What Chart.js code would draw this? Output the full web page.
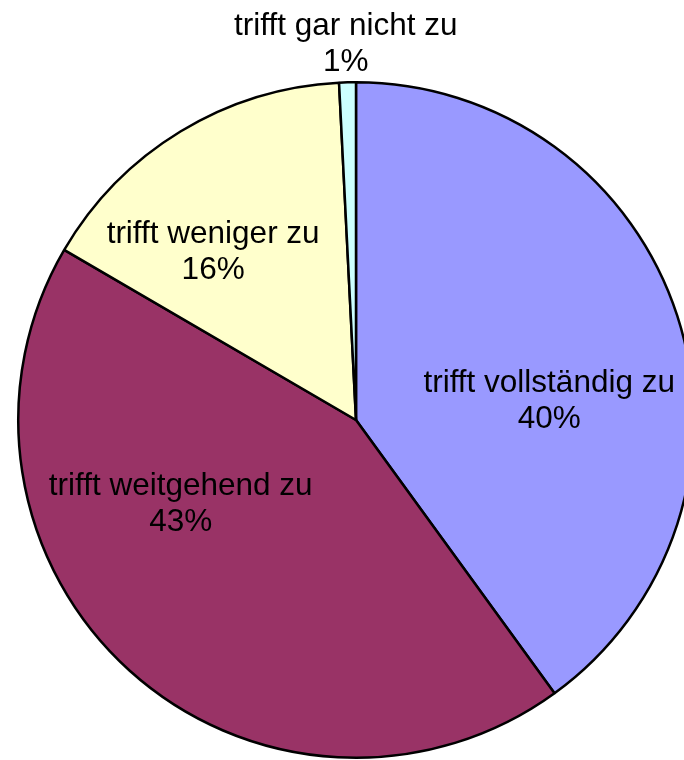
<!DOCTYPE html>
<html lang="de">
<head>
    <meta charset="UTF-8">
    <title>Kreisdiagramm</title>
    <script src="https://cdn.jsdelivr.net/npm/chart.js"></script>
    <style>
        html, body {
            margin: 0;
            padding: 0;
            background: #fff;
            overflow: hidden;
        }
        #pie {
            display: block;
        }
    </style>
</head>
<body>
    <canvas id="pie" width="700" height="760"></canvas>

    <script>
        // Werte (Prozent)
        const categories = ['trifft vollständig zu', 'trifft weitgehend zu', 'trifft weniger zu', 'trifft gar nicht zu'];
        const shares = [40.0, 43.4, 15.8, 0.8];
        const sliceColors = ['#9999FF', '#993366', '#FFFFCC', '#CCFFFF'];

        // Beschriftungen: Lage relativ zum Mittelpunkt, in Vielfachen des Radius
        const labelOffsets = [
            [0.572, -0.084],
            [-0.519, 0.221],
            [-0.423, -0.524],
            [-0.030, -1.141]
        ];

        const sliceLabels = {
            id: 'sliceLabels',
            afterDatasetsDraw(chart) {
                const ctx = chart.ctx;
                const meta = chart.getDatasetMeta(0);
                const total = shares.reduce((a, b) => a + b, 0);
                ctx.save();
                ctx.font = '31.5px "Liberation Sans", Arial, sans-serif';
                ctx.fillStyle = '#000';
                ctx.textAlign = 'center';
                ctx.textBaseline = 'alphabetic';
                meta.data.forEach((arc, i) => {
                    const r = arc.outerRadius;
                    const x = arc.x + labelOffsets[i][0] * r;
                    const y = arc.y + labelOffsets[i][1] * r;
                    const pct = Math.round(shares[i] / total * 100) + '%';
                    ctx.fillText(categories[i], x, y);
                    ctx.fillText(pct, x, y + 36);
                });
                ctx.restore();
            }
        };

        new Chart(document.getElementById('pie'), {
            type: 'pie',
            data: {
                labels: categories,
                datasets: [{
                    data: shares,
                    backgroundColor: sliceColors,
                    borderColor: '#000',
                    borderWidth: 2.5
                }]
            },
            options: {
                responsive: false,
                animation: false,
                layout: {
                    padding: { left: 17, top: 81, right: 5, bottom: 1 }
                },
                plugins: {
                    legend: { display: false },
                    tooltip: { enabled: false }
                }
            },
            plugins: [sliceLabels]
        });
    </script>
</body>
</html>
